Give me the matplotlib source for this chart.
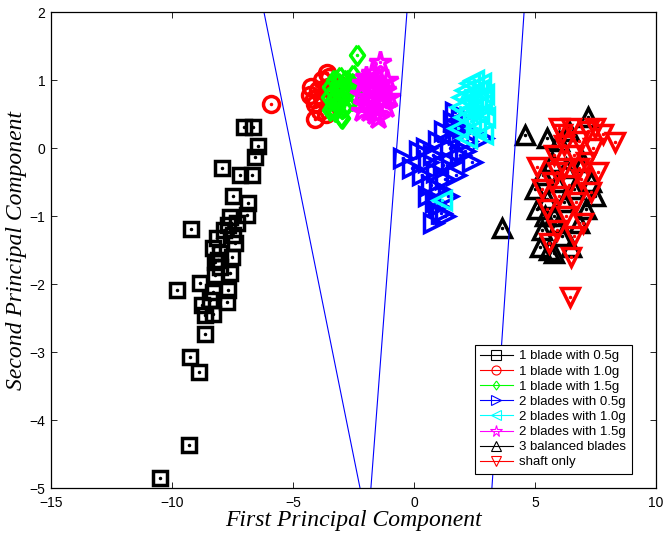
import matplotlib
matplotlib.use('Agg')
import matplotlib.pyplot as plt
from matplotlib.lines import Line2D
import numpy as np

# 1 blade with 0.5g (black squares)
b1_05_x = [-7.02, -6.65, -6.45, -6.57, -7.93, -7.19, -6.69, -7.48, -6.86, -6.90,
           -7.60, -7.69, -9.21, -7.48, -8.14, -7.40, -8.30, -8.02, -7.52, -8.22,
           -8.02, -7.60, -8.22, -8.84, -7.69, -9.80, -8.30, -7.73, -8.43, -8.76,
           -8.64, -8.30, -8.64, -9.26, -8.90, -9.30, -10.50, -7.30, -7.85, -8.10]
b1_05_y = [0.31, 0.31, 0.03, -0.13, -0.29, -0.40, -0.40, -0.71, -0.81, -0.99,
           -1.01, -1.13, -1.19, -1.28, -1.32, -1.40, -1.47, -1.54, -1.60, -1.68,
           -1.75, -1.84, -1.87, -1.99, -2.09, -2.09, -2.12, -2.26, -2.24, -2.31,
           -2.46, -2.44, -2.74, -3.07, -3.30, -4.37, -4.85, -1.10, -1.20, -1.65]

# 1 blade with 1.0g (red circles)
b1_10_x = [-4.30, -4.25, -4.10, -4.09, -3.95, -3.90, -3.80, -3.60, -3.75, -3.55,
           -3.40, -3.50, -3.30, -3.20, -5.90, -4.15, -3.65]
b1_10_y = [0.78, 0.90, 0.65, 0.42, 0.85, 0.55, 1.00, 1.10, 0.72, 0.90,
           0.60, 1.05, 0.80, 0.95, 0.65, 0.72, 0.50]

# 1 blade with 1.5g (green diamonds)
b1_15_x = [-3.50, -3.45, -3.40, -3.30, -3.25, -3.20, -3.10, -3.05, -3.00, -2.95,
           -2.90, -2.85, -2.80, -2.75, -2.70, -2.60, -2.55, -2.50, -2.45, -3.15,
           -3.35, -2.36, -3.47, -2.97]
b1_15_y = [0.75, 0.90, 0.60, 1.00, 0.55, 0.85, 0.70, 1.05, 0.45, 0.90,
           0.60, 0.78, 1.00, 0.65, 0.85, 0.95, 0.70, 1.08, 0.80, 0.95,
           0.70, 1.37, 0.56, 0.44]

# 2 blades with 0.5g (blue right triangles)
b2_05_x = [-0.45, -0.10, 0.20, 0.35, 0.50, 0.60, 0.70, 0.80, 0.85, 0.90,
           1.00, 1.05, 1.10, 1.20, 1.25, 1.30, 1.40, 1.50, 1.55, 1.60,
           1.70, 1.75, 1.80, 1.90, 2.00, 2.10, 2.20, 2.40, 2.85, 0.79,
           1.30, 1.00, 0.60, 1.70, 1.95]
b2_05_y = [-0.15, -0.30, -0.05, -0.40, 0.00, -0.20, -0.55, -0.10, -0.80, -0.35,
           0.10, -0.60, -0.95, -0.25, 0.25, -0.45, -0.70, 0.00, -0.20, 0.40,
           0.53, -0.40, 0.20, -0.10, 0.30, -0.05, 0.10, -0.20, 0.15, -1.10,
           -1.00, -0.85, -0.70, 0.30, 0.45]

# 2 blades with 1.0g (cyan left triangles)
b2_10_x = [1.90, 2.00, 2.05, 2.10, 2.20, 2.25, 2.30, 2.35, 2.40, 2.45,
           2.50, 2.55, 2.60, 2.65, 2.70, 2.75, 2.80, 2.85, 2.90, 2.95,
           1.15, 2.20, 1.80]
b2_10_y = [0.60, 0.75, 0.45, 0.85, 0.55, 0.70, 0.95, 0.40, 0.80, 0.60,
           1.00, 0.30, 0.70, 0.85, 0.50, 0.95, 0.65, 0.20, 0.80, 0.45,
           -0.76, 0.15, 0.30]

# 2 blades with 1.5g (magenta stars)
b2_15_x = [-2.20, -2.10, -2.05, -2.00, -1.90, -1.85, -1.80, -1.75, -1.70, -1.65,
           -1.60, -1.55, -1.50, -1.45, -1.40, -1.35, -1.30, -1.20, -1.15, -1.10,
           -1.05, -1.90, -2.15, -1.60]
b2_15_y = [0.80, 0.95, 0.65, 1.05, 0.75, 0.55, 0.90, 1.10, 0.70, 0.85,
           1.00, 0.60, 0.44, 0.80, 1.26, 0.95, 0.70, 0.85, 0.60, 1.00,
           0.75, 1.00, 0.55, 0.50]

# 3 balanced blades (black up triangles)
bal_x = [5.00, 5.10, 5.20, 5.30, 5.35, 5.50, 5.60, 5.50, 5.70, 5.80,
         5.90, 6.00, 6.10, 6.20, 6.30, 6.50, 6.60, 6.80, 7.00, 7.10,
         7.19, 7.30, 7.50, 6.40, 5.80, 5.40, 6.00, 4.59, 3.64]
bal_y = [-0.60, -0.90, -1.45, -1.20, -0.40, -0.75, -1.50, 0.15, -0.20, -1.00,
         -0.50, 0.10, -1.30, -0.80, -0.30, -1.45, -0.60, -1.10, -0.20, -0.90,
         0.45, -0.50, -0.70, 0.25, -1.55, -1.00, -1.10, 0.19, -1.18]

# shaft only (red down triangles)
shaft_x = [5.10, 5.30, 5.50, 5.60, 5.70, 5.80, 5.90, 6.00, 6.10, 6.20,
           6.30, 6.40, 6.50, 6.50, 6.60, 6.70, 6.80, 6.90, 7.00, 7.10,
           7.20, 7.30, 7.50, 7.60, 7.80, 8.31, 6.45, 6.00, 6.80, 7.40,
           6.20, 5.90, 6.60]
shaft_y = [-0.28, -0.60, -0.90, -1.40, -0.50, -0.10, -1.20, -0.70, 0.20, -0.30,
           -1.00, -0.55, 0.30, -1.60, -0.10, -0.80, 0.10, -0.45, -1.10, -0.20,
           0.25, -0.65, 0.30, -0.35, 0.20, 0.09, -2.19, 0.30, -0.30, 0.00,
           0.05, -0.35, -1.30]

# separating lines (endpoints at y = 2 and y = -5)
sep_x = [[-6.20, -2.23], [-0.29, -1.78], [4.55, 3.22]]
sep_y = [2, -5]

labels = ['1 blade with 0.5g', '1 blade with 1.0g', '1 blade with 1.5g',
          '2 blades with 0.5g', '2 blades with 1.0g', '2 blades with 1.5g',
          '3 balanced blades', 'shaft only']

diamond = [(0, 1), (0.72, 0), (0, -1), (-0.72, 0), (0, 1)]

series = [
    (b1_05_x, b1_05_y, 's', 'black', 10),
    (b1_10_x, b1_10_y, 'o', 'red', 11.5),
    (b1_15_x, b1_15_y, diamond, '#00ff00', 14),
    (b2_05_x, b2_05_y, '>', 'blue', 13.5),
    (b2_10_x, b2_10_y, '<', 'cyan', 13.5),
    (b2_15_x, b2_15_y, '*', 'magenta', 16),
    (bal_x, bal_y, '^', 'black', 13.5),
    (shaft_x, shaft_y, 'v', 'red', 13.5),
]

fig = plt.figure(figsize=(6.63, 5.34), dpi=100)
ax = fig.add_axes([0.0769, 0.0861, 0.9125, 0.8914])

handles = []
for (xs, ys, m, c, ms), lab in zip(series, labels):
    ax.plot(xs, ys, linestyle='none', marker=m, markersize=ms,
            markerfacecolor='none', markeredgecolor=c, markeredgewidth=2.5)
    ax.plot(xs, ys, linestyle='none', marker='.', markersize=3, color=c)
    handles.append(Line2D([], [], color=c, linewidth=0.8, marker=m,
                          markersize=6.5 if m != '*' else 8.5,
                          markerfacecolor='none', markeredgecolor=c,
                          markeredgewidth=0.8, label=lab))

for xs in sep_x:
    ax.plot(xs, sep_y, color='blue', linewidth=0.8)

ax.set_xlim(-15, 10)
ax.set_ylim(-5, 2)
ax.set_xticks([-15, -10, -5, 0, 5, 10])
ax.set_yticks([-5, -4, -3, -2, -1, 0, 1, 2])
ax.tick_params(direction='in', top=True, right=True, length=4, width=0.6,
               labelsize=10)
ax.tick_params(axis='x', pad=6)
ax.tick_params(axis='y', pad=4)
for t in ax.get_xticklabels() + ax.get_yticklabels():
    t.set_family('Liberation Sans')
for s in ax.spines.values():
    s.set_linewidth(0.9)

ax.set_xlabel('First Principal Component', family='Liberation Serif',
              style='italic', fontsize=17, labelpad=0)
ax.set_ylabel('Second Principal Component', family='Liberation Serif',
              style='italic', fontsize=17, labelpad=2)

leg = ax.legend(handles=handles, loc='lower right', bbox_to_anchor=(0.96, 0.03),
                prop={'family': 'Liberation Sans', 'size': 9.5},
                labelspacing=0.22, handlelength=2.5, handletextpad=0.5,
                borderpad=0.4, borderaxespad=0, fancybox=False, framealpha=1)
leg.get_frame().set_edgecolor('black')
leg.get_frame().set_linewidth(0.8)

fig.savefig('out.png', dpi=100)
